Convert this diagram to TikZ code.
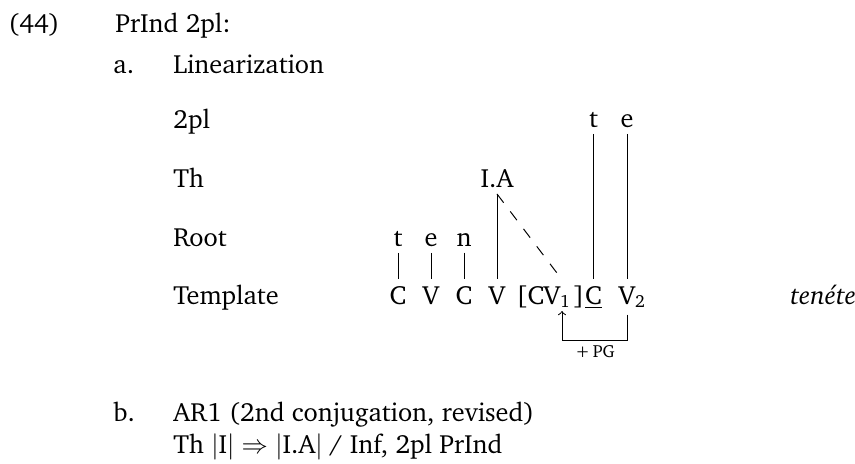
\documentclass[tikz,border=0pt]{standalone}
\usepackage[T1]{fontenc}
\usepackage{charter}
\begin{document}
\begin{tikzpicture}[x=0.456pt, y=-0.456pt,
    font=\fontsize{12}{14.4}\selectfont,
    every node/.style={anchor=base, inner sep=2.8pt},
    txt/.style={anchor=base west, inner sep=0pt},
    assoc/.style={line width=0.45pt}]
  \useasboundingbox (0,0) rectangle (855,463);

  \node[txt] (num) at (8,32) {(44)};
  \node[txt] (title) at (115,32) {PrInd 2pl:};
  \node[txt] (itema) at (113,73) {a.};
  \node[txt] (lin) at (173,73) {Linearization};

  \node[txt] (r2pl) at (173,128) {2pl};
  \node[txt] (rth) at (173,187) {Th};
  \node[txt] (rroot) at (173,246) {Root};
  \node[txt] (rtmpl) at (173,304) {Template};

  % 2pl
  \node (st) at (593.5,127) {t};
  \node (se) at (627,127) {e};
  % Th
  \node (ia) at (497,187) {I.A};
  % Root
  \node (rt) at (398,246) {t};
  \node (re) at (431,246) {e};
  \node (rn) at (464,246) {n};
  % Template
  \node (c1) at (398,304) {C};
  \node (v1) at (431,304) {V};
  \node (c2) at (464,304) {C};
  \node (v2) at (497,304) {V};
  \node (lb) at (522,304) {[};
  \node (c3) at (536,304) {C};
  \node (v3) at (552,304) {V\rlap{\textsubscript{1}}};
  \node (rb) at (579,304) {]};
  \node (c4) at (593.5,304) {\underline{C}};
  \node (v4) at (627,304) {V\rlap{\textsubscript{2}}};
  \node[txt] (form) at (790,304) {\itshape ten\'ete};

  \draw[assoc] (rt) -- (c1);
  \draw[assoc] (re) -- (v1);
  \draw[assoc] (rn) -- (c2);
  \draw[assoc] (ia) -- (v2);
  \draw[assoc] (st) -- (c4);
  \draw[assoc] (se) -- (v4);
  \draw[assoc, dash pattern=on 5pt off 5pt] (ia.south) -- ([xshift=4.5pt]v3.north);

  % +PG
  \coordinate (pgr) at (627,340);
  \coordinate (pgl) at (562,340);
  \coordinate (pgtip) at (562,311);
  \draw[assoc, ->] (v4.south) -- (pgr) -- (pgl) -- (pgtip);
  \node[font=\fontsize{8}{10}\selectfont] (pg) at (595,357) {+\,PG};

  \node[txt] (itemb) at (113,421) {b.};
  \node[txt] (ar) at (173,421) {AR1 (2nd conjugation, revised)};
  \node[txt] (rule) at (173,453) {Th $|$I$|$ $\Rightarrow$ $|$I.A$|$ / Inf, 2pl PrInd};
\end{tikzpicture}
\end{document}
